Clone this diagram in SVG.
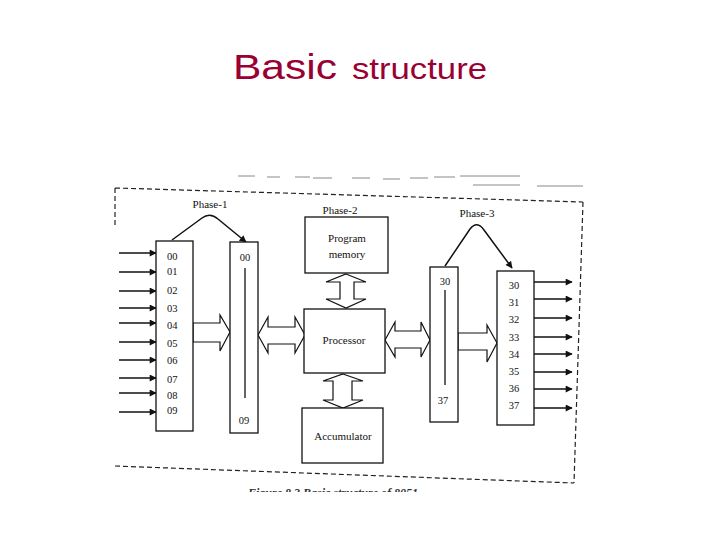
<svg xmlns="http://www.w3.org/2000/svg" width="720" height="540" viewBox="0 0 720 540">
<style>
.title{font-family:"Liberation Sans",Arial,sans-serif;fill:#990033}
.lbl{font-family:"Liberation Serif","Times New Roman",serif;font-size:11px;fill:#111}
.num{font-family:"Liberation Serif","Times New Roman",serif;font-size:10.5px;fill:#111}
.box{fill:#fff;stroke:#111;stroke-width:1.3}
.fat{fill:#fff;stroke:#111;stroke-width:1.2;stroke-linejoin:miter}
.ln{fill:none;stroke:#111;stroke-width:1.3}
.arr{fill:none;stroke:#111;stroke-width:1.5;marker-end:url(#ah)}
.frame{fill:none;stroke:#222;stroke-width:1.2;stroke-dasharray:5 3}
.scan{fill:none;stroke:#888;stroke-width:1}
.cap{font-family:"Liberation Serif","Times New Roman",serif;font-size:12px;font-weight:bold;font-style:italic;fill:#333}
</style>
<defs>
<marker id="ah" viewBox="0 0 10 10" refX="9" refY="5" markerWidth="8" markerHeight="7" orient="auto" markerUnits="userSpaceOnUse">
<path d="M0,0 L10,5 L0,10 z" fill="#111"/>
</marker>
<clipPath id="capclip"><rect x="0" y="0" width="720" height="492"/></clipPath>
</defs>
<rect width="720" height="540" fill="#fff"/>
<text class="title" x="233" y="79" font-size="35" textLength="104" lengthAdjust="spacingAndGlyphs">Basic</text>
<text class="title" x="352" y="79" font-size="29" textLength="135" lengthAdjust="spacingAndGlyphs">structure</text>
<g id="scan-remnants">
<path class="scan" d="M238,176 H255 M267,177 H280 M295,177 H310 M313,178 H332 M352,178 H370 M383,179 H400 M410,178 H428 M434,177 H455 M460,176 H520 M473,185 H520 M537,186 H583"/>
</g>
<g id="frame">
<path class="frame" d="M115,188 L583,202 M115,188 L115,226 M583,202 L574,483 M115,466 L574,483"/>
</g>
<g id="connectors">
<path class="arr" d="M119,253 H156"/>
<path class="arr" d="M119,272 H156"/>
<path class="arr" d="M119,291 H156"/>
<path class="arr" d="M119,308 H156"/>
<path class="arr" d="M119,323 H156"/>
<path class="arr" d="M119,342 H156"/>
<path class="arr" d="M119,360 H156"/>
<path class="arr" d="M119,378 H156"/>
<path class="arr" d="M119,393 H156"/>
<path class="arr" d="M119,412 H156"/>
<path class="arr" d="M534,282 H572"/>
<path class="arr" d="M534,299 H572"/>
<path class="arr" d="M534,318 H572"/>
<path class="arr" d="M534,337 H572"/>
<path class="arr" d="M534,354 H572"/>
<path class="arr" d="M534,372 H572"/>
<path class="arr" d="M534,389 H572"/>
<path class="arr" d="M534,408 H572"/>
<path class="arr" d="M172,240 L202,218 Q210,212 218,219 L246,242"/>
<path class="arr" d="M445,266 L470,229 Q477,220 484,230 L512,268"/>
<polygon class="fat" points="193,323 220,323 220,315 230,332 220,351 220,342 193,342"/>
<polygon class="fat" points="258,335 268,317 268,327 295,327 295,317 305,335 295,353 295,344 268,344 268,353"/>
<polygon class="fat" points="346,274 366,282 354,282 354,299 366,299 346,308 326,299 340,299 340,282 326,282"/>
<polygon class="fat" points="343,374 363,381 352,381 352,400 363,400 343,408 323,400 333,400 333,381 323,381"/>
<polygon class="fat" points="385,340 395,322 395,331 421,331 421,322 430,340 421,357 421,348 395,348 395,357"/>
<polygon class="fat" points="458,333 487,333 487,325 497,343 487,362 487,350 458,350"/>
</g>
<g id="input-port">
<rect class="box" x="156" y="241" width="37" height="190"/>
<text class="num" x="167" y="260">00</text>
<text class="num" x="167" y="275">01</text>
<text class="num" x="167" y="294">02</text>
<text class="num" x="167" y="312">03</text>
<text class="num" x="167" y="329">04</text>
<text class="num" x="167" y="347">05</text>
<text class="num" x="167" y="364">06</text>
<text class="num" x="167" y="383">07</text>
<text class="num" x="167" y="399">08</text>
<text class="num" x="167" y="414">09</text>
</g>
<g id="input-latch">
<rect class="box" x="230" y="242" width="28" height="191"/>
<path class="ln" d="M245,268 V398"/>
<text class="num" x="245" y="261" text-anchor="middle">00</text>
<text class="num" x="244" y="424" text-anchor="middle">09</text>
</g>
<g id="phase1"><text class="lbl" x="210" y="208" text-anchor="middle">Phase-1</text></g>
<g id="phase2"><text class="lbl" x="340" y="214" text-anchor="middle">Phase-2</text></g>
<g id="phase3"><text class="lbl" x="477" y="217" text-anchor="middle">Phase-3</text></g>
<g id="program-memory">
<rect class="box" x="305" y="217" width="83" height="56"/>
<text class="lbl" x="347" y="242" text-anchor="middle">Program</text>
<text class="lbl" x="347" y="258" text-anchor="middle">memory</text>
</g>
<g id="processor">
<rect class="box" x="304" y="309" width="81" height="64"/>
<text class="lbl" x="344" y="344" text-anchor="middle">Processor</text>
</g>
<g id="accumulator">
<rect class="box" x="302" y="408" width="81" height="55"/>
<text class="lbl" x="343" y="440" text-anchor="middle">Accumulator</text>
</g>
<g id="output-latch">
<rect class="box" x="430" y="267" width="28" height="155"/>
<path class="ln" d="M445,290 V385"/>
<text class="num" x="445" y="285" text-anchor="middle">30</text>
<text class="num" x="443" y="404" text-anchor="middle">37</text>
</g>
<g id="output-port">
<rect class="box" x="497" y="271" width="37" height="154"/>
<text class="num" x="514" y="289" text-anchor="middle">30</text>
<text class="num" x="514" y="306" text-anchor="middle">31</text>
<text class="num" x="514" y="323" text-anchor="middle">32</text>
<text class="num" x="514" y="341" text-anchor="middle">33</text>
<text class="num" x="514" y="358" text-anchor="middle">34</text>
<text class="num" x="514" y="375" text-anchor="middle">35</text>
<text class="num" x="514" y="392" text-anchor="middle">36</text>
<text class="num" x="514" y="409" text-anchor="middle">37</text>
</g>
<g id="caption" clip-path="url(#capclip)">
<text class="cap" x="248" y="497">Figure 8.3  Basic structure of 8051</text>
</g>
</svg>
